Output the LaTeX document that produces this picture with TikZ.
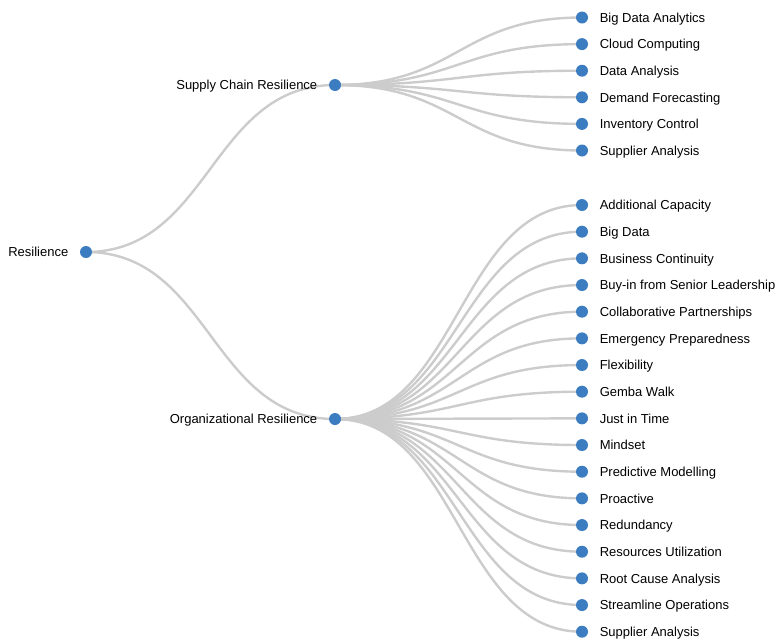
\documentclass[tikz,border=0pt]{standalone}
\usepackage{fontspec}
\setmainfont{Liberation Sans}
\usetikzlibrary{calc,backgrounds}
\definecolor{dotblue}{RGB}{59,125,192}
\definecolor{linkgray}{RGB}{204,204,204}
\tikzset{
  every picture/.style={line width=0.75pt},
  dot/.style={circle, fill=dotblue, minimum size=12pt, inner sep=0pt},
  link/.style={draw=linkgray, line width=2.4pt},
  every label/.style={inner sep=0pt, text height=0.7em, text depth=0pt, yshift=-1.2pt,
    font=\fontsize{13}{15}\selectfont},
}

\begin{document}
\begin{tikzpicture}[x=1pt, y=-1pt]
    \useasboundingbox (0,0) rectangle (776,643);
    % root and second level
    \node[dot, label={[label distance=11pt]left:Resilience}] (root) at (86,252) {};
    \node[dot, label={[label distance=11pt]left:Supply Chain Resilience}] (scr) at (335,85) {};
    \node[dot, label={[label distance=11pt]left:Organizational Resilience}] (orgr) at (335,419) {};
    % leaves under supply chain
    \foreach \txt [count=\i] in {Big Data Analytics, Cloud Computing, Data Analysis,
        Demand Forecasting, Inventory Control, Supplier Analysis}
        \node[dot, label={[label distance=11pt]right:\txt}] (s\i) at (582,{17.5+26.6*(\i-1)}) {};
    % leaves under organizational
    \foreach \txt [count=\i] in {Additional Capacity, Big Data, Business Continuity,
        Buy-in from Senior Leadership, Collaborative Partnerships, Emergency Preparedness,
        Flexibility, Gemba Walk, Just in Time, Mindset, Predictive Modelling, Proactive,
        Redundancy, Resources Utilization, Root Cause Analysis, Streamline Operations,
        Supplier Analysis}
        \node[dot, label={[label distance=11pt]right:\txt}] (o\i) at (582,{205+26.67*(\i-1)}) {};
    % links, behind the dots
    \begin{scope}[on background layer]
        \foreach \a/\b in {root/scr, root/orgr, scr/s1, scr/s2, scr/s3, scr/s4, scr/s5, scr/s6} {
            \coordinate (m) at ($(\a)!0.5!(\b)$);
            \draw[link] (\a.center) .. controls (m |- \a.center) and (m |- \b.center) .. (\b.center);
        }
        \foreach \i in {1,...,17} {
            \coordinate (m) at ($(orgr)!0.5!(o\i)$);
            \draw[link] (orgr.center) .. controls (m |- orgr.center) and (m |- o\i.center) .. (o\i.center);
        }
    \end{scope}
\end{tikzpicture}
\end{document}
